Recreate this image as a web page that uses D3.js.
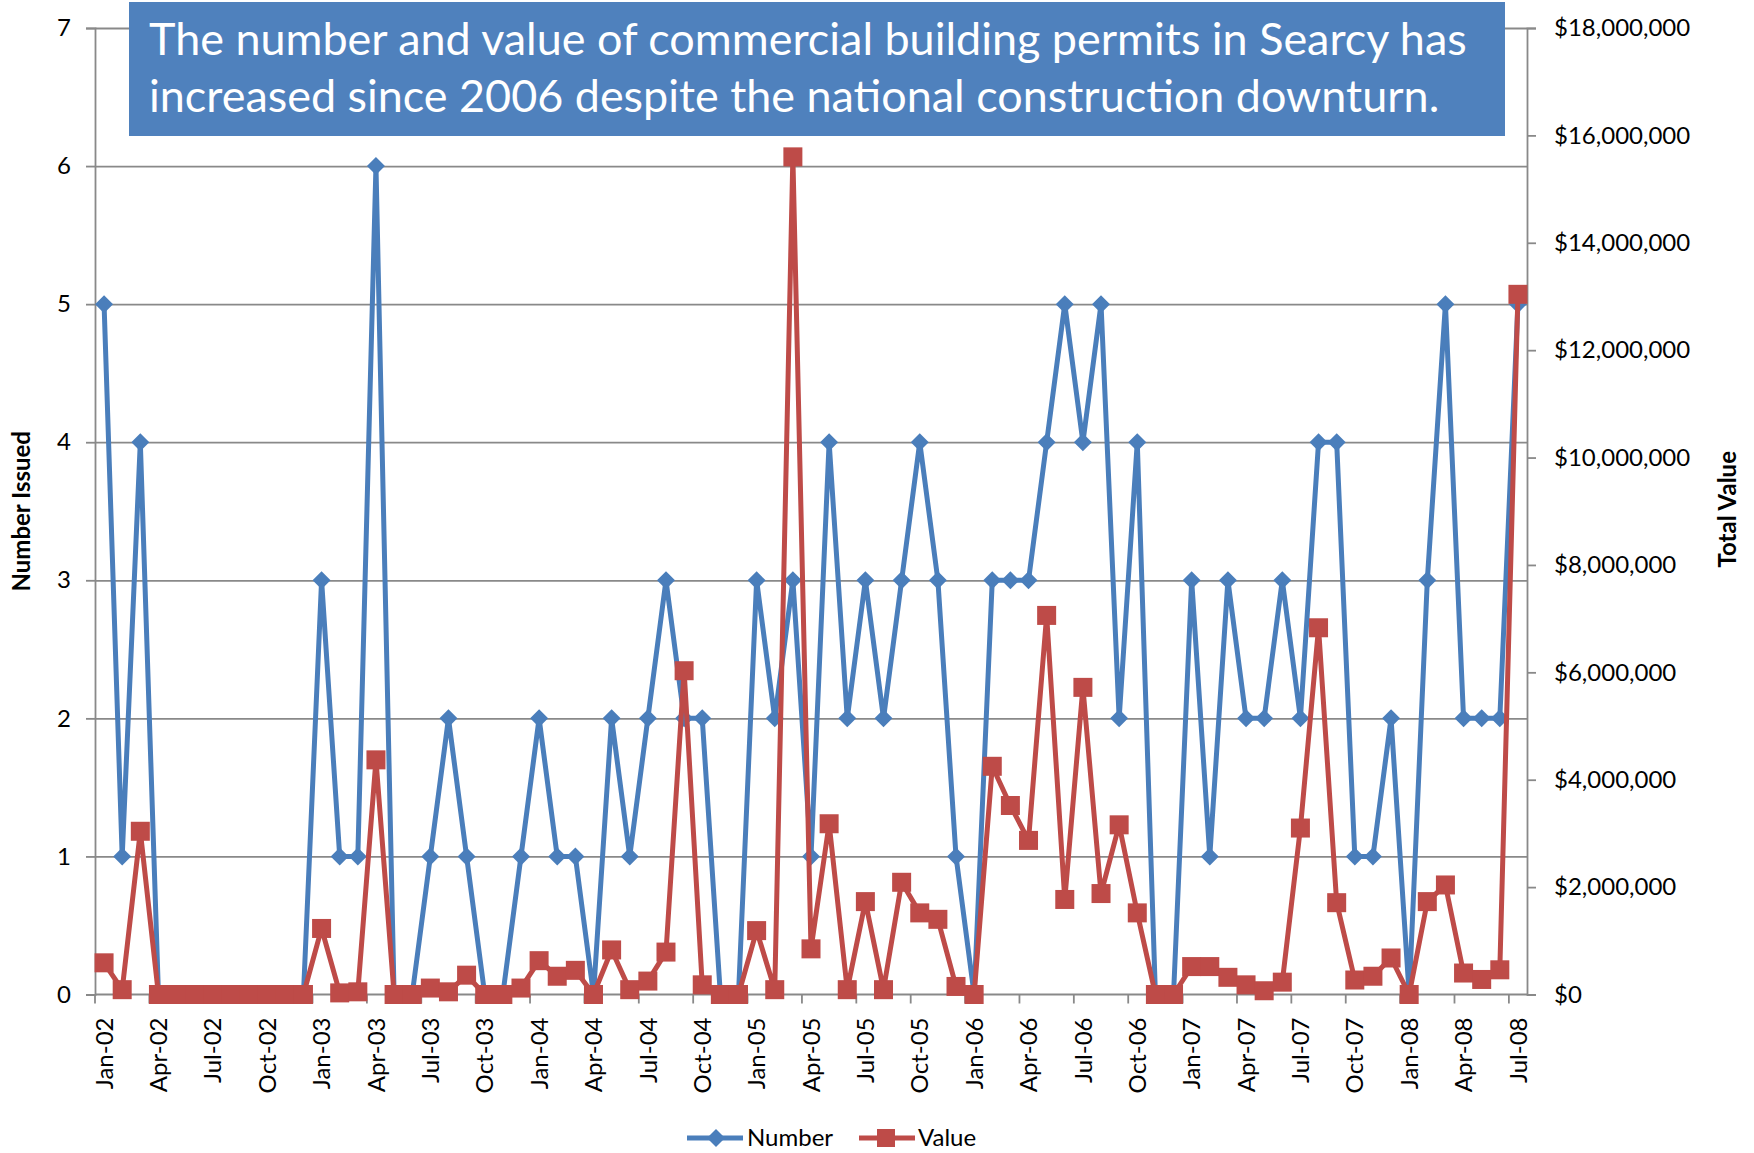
<!DOCTYPE html>
<html>
<head>
<meta charset="utf-8">
<script src="https://cdn.jsdelivr.net/npm/d3@7"></script>
<style>
  body { margin: 0; background: #fff; }
  text { font-family: Lato, "Open Sans", sans-serif; }
</style>
</head>
<body>
<div class="canvas"></div>
<script>
// data, Jan-02 .. Jul-08
const months = [
  'Jan-02','Feb-02','Mar-02','Apr-02','May-02','Jun-02','Jul-02','Aug-02','Sep-02','Oct-02','Nov-02','Dec-02',
  'Jan-03','Feb-03','Mar-03','Apr-03','May-03','Jun-03','Jul-03','Aug-03','Sep-03','Oct-03','Nov-03','Dec-03',
  'Jan-04','Feb-04','Mar-04','Apr-04','May-04','Jun-04','Jul-04','Aug-04','Sep-04','Oct-04','Nov-04','Dec-04',
  'Jan-05','Feb-05','Mar-05','Apr-05','May-05','Jun-05','Jul-05','Aug-05','Sep-05','Oct-05','Nov-05','Dec-05',
  'Jan-06','Feb-06','Mar-06','Apr-06','May-06','Jun-06','Jul-06','Aug-06','Sep-06','Oct-06','Nov-06','Dec-06',
  'Jan-07','Feb-07','Mar-07','Apr-07','May-07','Jun-07','Jul-07','Aug-07','Sep-07','Oct-07','Nov-07','Dec-07',
  'Jan-08','Feb-08','Mar-08','Apr-08','May-08','Jun-08','Jul-08'
];

const numberIssued = [
  5,1,4,0,0,0,0,0,0,0,0,0,
  3,1,1,6,0,0,1,2,1,0,0,1,
  2,1,1,0,2,1,2,3,2,2,0,0,
  3,2,3,1,4,2,3,2,3,4,3,1,
  0,3,3,3,4,5,4,5,2,4,0,0,
  3,1,3,2,2,3,2,4,4,1,1,2,
  0,3,5,2,2,2,5
];

const totalValue = [
  590000,90000,3040000,0,0,0,0,0,0,0,0,0,
  1230000,30000,50000,4370000,0,0,120000,50000,360000,0,0,120000,
  630000,340000,450000,0,830000,90000,250000,790000,6030000,180000,0,0,
  1190000,90000,15600000,850000,3180000,90000,1730000,90000,2090000,1520000,1400000,150000,
  0,4250000,3520000,2870000,7060000,1770000,5720000,1880000,3160000,1520000,0,0,
  520000,520000,320000,180000,70000,230000,3100000,6830000,1710000,270000,340000,680000,
  0,1730000,2040000,400000,280000,460000,13040000
];

const leftTicks = [0,1,2,3,4,5,6,7];
const rightTicks = [0,2e6,4e6,6e6,8e6,10e6,12e6,14e6,16e6,18e6];
const titleLines = [
  'The number and value of commercial building permits in Searcy has',
  'increased since 2006 despite the national construction downturn.'
];

const blue = '#4A7EBB';
const red = '#BE4B48';
const gridColor = '#898989';

// 1. dimensions
const W = 1754, H = 1153;
const plot = {left: 95, right: 1527, top: 28, bottom: 994.5};

const svg = d3.select('.canvas')
  .append('svg')
  .attr('width', W)
  .attr('height', H);

// 2. scales
const x = d3.scaleBand().domain(months).range([plot.left, plot.right]);
const cx = d => x(d) + x.bandwidth() / 2;
const yL = d3.scaleLinear().domain([0, 7]).range([plot.bottom, plot.top]);
const yR = d3.scaleLinear().domain([0, 18e6]).range([plot.bottom, plot.top]);

// 3. gridlines (from left axis)
svg.append('g')
  .attr('transform', `translate(${plot.left},0)`)
  .call(d3.axisLeft(yL).tickValues(leftTicks.slice(1)).tickSize(-(plot.right - plot.left)).tickFormat(''))
  .call(g => g.select('.domain').remove())
  .call(g => g.selectAll('line').attr('stroke', gridColor).attr('stroke-width', 1.8));

// left axis
const leftAxis = svg.append('g')
  .attr('transform', `translate(${plot.left},0)`)
  .call(d3.axisLeft(yL).tickValues(leftTicks).tickSize(9).tickPadding(15).tickFormat(d3.format('d')));
leftAxis.select('.domain').attr('stroke', gridColor).attr('stroke-width', 1.8);
leftAxis.selectAll('line').attr('stroke', gridColor).attr('stroke-width', 1.8);
leftAxis.selectAll('text').attr('font-size', 24).attr('fill', '#000')
  .style('font-family', 'Lato, sans-serif');

// right axis
const rightAxis = svg.append('g')
  .attr('transform', `translate(${plot.right},0)`)
  .call(d3.axisRight(yR).tickValues(rightTicks).tickSize(9).tickPadding(18)
    .tickFormat(d => '$' + d3.format(',')(d)));
rightAxis.select('.domain').attr('stroke', gridColor).attr('stroke-width', 1.8);
rightAxis.selectAll('line').attr('stroke', gridColor).attr('stroke-width', 1.8);
rightAxis.selectAll('text').attr('font-size', 24).attr('fill', '#000')
  .style('font-family', 'Lato, sans-serif');

// x axis: baseline, tick marks every 3 months, rotated labels
const xAxis = svg.append('g');
xAxis.append('line')
  .attr('x1', plot.left).attr('x2', plot.right)
  .attr('y1', plot.bottom).attr('y2', plot.bottom)
  .attr('stroke', gridColor).attr('stroke-width', 1.8);
const labelled = months.filter((m, i) => i % 3 === 0);
xAxis.selectAll('line.tick')
  .data(labelled)
  .enter().append('line')
    .attr('class', 'tick')
    .attr('x1', d => x(d)).attr('x2', d => x(d))
    .attr('y1', plot.bottom).attr('y2', plot.bottom + 9)
    .attr('stroke', gridColor).attr('stroke-width', 1.8);
xAxis.selectAll('text')
  .data(labelled)
  .enter().append('text')
    .attr('transform', d => `translate(${cx(d)},${plot.bottom + 23}) rotate(-90)`)
    .attr('text-anchor', 'end')
    .attr('dy', '0.36em')
    .attr('font-size', 24)
    .text(d => d);

// axis titles
svg.append('text')
  .attr('transform', `translate(22,${(plot.top + plot.bottom) / 2}) rotate(-90)`)
  .attr('text-anchor', 'middle')
  .attr('dy', '0.35em')
  .attr('font-size', 24).attr('font-weight', 'bold')
  .text('Number Issued');
svg.append('text')
  .attr('transform', `translate(1728,${(plot.top + plot.bottom) / 2 - 2}) rotate(-90)`)
  .attr('text-anchor', 'middle')
  .attr('dy', '0.35em')
  .attr('font-size', 24).attr('font-weight', 'bold')
  .text('Total Value');

// 4. lines
const numberLine = d3.line().x((d, i) => cx(months[i])).y(d => yL(d));
const valueLine = d3.line().x((d, i) => cx(months[i])).y(d => yR(d));

const diamond = 'M0,-9L9,0L0,9L-9,0Z';
const sq = 9.5;

svg.append('path')
  .datum(numberIssued)
  .attr('d', numberLine)
  .attr('fill', 'none').attr('stroke', blue).attr('stroke-width', 5)
  .attr('stroke-linejoin', 'round');
svg.selectAll('path.dia')
  .data(numberIssued)
  .enter().append('path')
    .attr('class', 'dia')
    .attr('d', diamond)
    .attr('transform', (d, i) => `translate(${cx(months[i])},${yL(d)})`)
    .attr('fill', blue);

svg.append('path')
  .datum(totalValue)
  .attr('d', valueLine)
  .attr('fill', 'none').attr('stroke', red).attr('stroke-width', 5)
  .attr('stroke-linejoin', 'round');
svg.selectAll('rect.sq')
  .data(totalValue)
  .enter().append('rect')
    .attr('class', 'sq')
    .attr('x', (d, i) => cx(months[i]) - sq)
    .attr('y', d => yR(d) - sq)
    .attr('width', sq * 2).attr('height', sq * 2)
    .attr('fill', red);

// 5. title box
const titleBox = svg.append('g');
titleBox.append('rect')
  .attr('x', 129).attr('y', 2)
  .attr('width', 1505 - 129).attr('height', 134)
  .attr('fill', '#4F81BD');
const t1 = titleBox.append('text')
  .attr('x', 149).attr('y', 55)
  .attr('fill', '#fff').attr('font-size', 40)
  .text(titleLines[0]);
// fit font size so the first line spans like the original
const w1 = t1.node().getComputedTextLength();
const fs = 40 * 1318 / w1;
t1.attr('font-size', fs);
titleBox.append('text')
  .attr('x', 149).attr('y', 112)
  .attr('fill', '#fff').attr('font-size', fs)
  .text(titleLines[1]);

// 6. legend
const legend = svg.append('g').attr('transform', 'translate(0,1138)');
legend.append('line').attr('x1', 687).attr('x2', 743).attr('y1', 0).attr('y2', 0)
  .attr('stroke', blue).attr('stroke-width', 5);
legend.append('path').attr('d', diamond).attr('transform', 'translate(716,0)').attr('fill', blue);
legend.append('text').attr('x', 747).attr('y', 0).attr('dy', '0.35em')
  .attr('font-size', 24).text('Number');
legend.append('line').attr('x1', 859).attr('x2', 915).attr('y1', 0).attr('y2', 0)
  .attr('stroke', red).attr('stroke-width', 5);
legend.append('rect').attr('x', 886 - 9).attr('y', -9).attr('width', 18).attr('height', 18)
  .attr('fill', red);
legend.append('text').attr('x', 918).attr('y', 0).attr('dy', '0.35em')
  .attr('font-size', 24).text('Value');
</script>
</body>
</html>
